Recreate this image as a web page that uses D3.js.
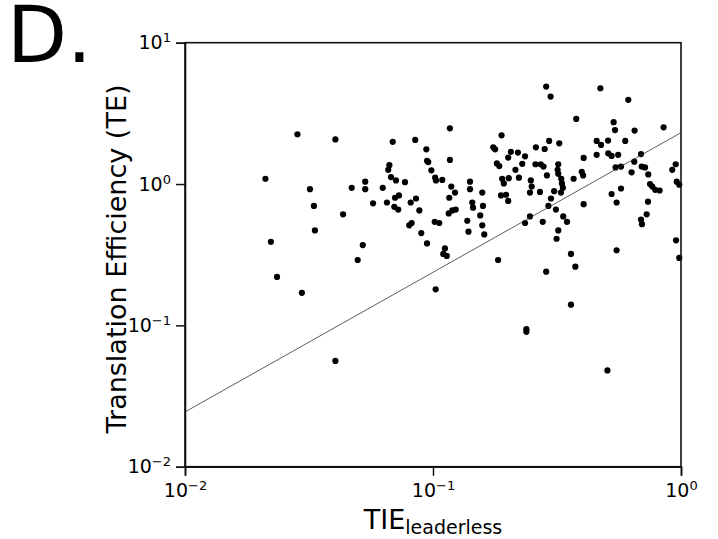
<!DOCTYPE html>
<html>
<head>
<meta charset="utf-8">
<script src="https://cdn.jsdelivr.net/npm/d3@7"></script>
<style>
  body { margin: 0; background: #fff; }
  svg { font-family: "DejaVu Sans", sans-serif; }
</style>
</head>
<body>
<div id="chart"></div>
<script>
// TIE (leaderless) on x, translation efficiency on y, one entry per gene
const tie = [
  0.0284, 0.0404, 0.0688, 0.0848, 0.094, 0.0946, 0.0957, 0.0985, 0.102, 0.1028,
  0.0211, 0.0319, 0.0331, 0.0434, 0.0334, 0.0222, 0.0521, 0.047, 0.0533, 0.0533,
  0.0627, 0.0573, 0.0652, 0.0667, 0.066, 0.0677, 0.0709, 0.0771, 0.0703, 0.0729,
  0.0698, 0.0724, 0.0813, 0.0854, 0.0881, 0.0802, 0.082, 0.0897, 0.0946, 0.1016,
  0.106, 0.109, 0.117, 0.117, 0.1185, 0.1227, 0.1163, 0.1157, 0.1196, 0.1235,
  0.1117, 0.110, 0.1136, 0.141, 0.141, 0.144, 0.145, 0.158, 0.159, 0.155,
  0.1375, 0.158, 0.139, 0.161, 0.189, 0.175, 0.178, 0.206, 0.220, 0.201,
  0.235, 0.181, 0.185, 0.229, 0.215, 0.190, 0.202, 0.193, 0.222, 0.188,
  0.197, 0.201, 0.248, 0.250, 0.246, 0.270, 0.260, 0.282, 0.294, 0.323,
  0.286, 0.298, 0.259, 0.272, 0.279, 0.288, 0.320, 0.318, 0.320, 0.329,
  0.331, 0.334, 0.308, 0.328, 0.299, 0.292, 0.313, 0.246, 0.235, 0.277,
  0.335, 0.347, 0.320, 0.315, 0.378, 0.405, 0.369, 0.398, 0.403, 0.405,
  0.473, 0.613, 0.535, 0.542, 0.650, 0.851, 0.457, 0.476, 0.508, 0.596,
  0.457, 0.509, 0.525, 0.558, 0.545, 0.573, 0.648, 0.690, 0.632, 0.694,
  0.716, 0.738, 0.750, 0.766, 0.787, 0.820, 0.525, 0.573, 0.550, 0.736,
  0.727, 0.690, 0.696, 0.952, 0.922, 0.961, 0.984, 0.955, 0.183, 0.286,
  0.360, 0.375, 0.360, 0.238, 0.238, 0.505, 0.550, 0.984, 0.1025, 0.0235,
  0.0296, 0.0497, 0.0404
];
const te = [
  2.25, 2.07, 1.99, 2.05, 1.76, 1.46, 1.43, 1.25, 1.11, 1.06,
  1.09, 0.92, 0.70, 0.61, 0.47, 0.39, 0.37, 0.94, 1.04, 0.92,
  0.94, 0.73, 0.74, 1.36, 1.26, 1.12, 1.06, 1.03, 0.80, 0.83,
  0.69, 0.66, 0.74, 0.79, 0.65, 0.51, 0.53, 0.45, 0.38, 0.54,
  0.53, 1.07, 2.48, 1.48, 0.96, 0.87, 0.80, 0.62, 0.65, 0.66,
  0.35, 0.32, 0.31, 1.04, 0.92, 0.74, 0.68, 0.87, 0.70, 0.60,
  0.55, 0.51, 0.46, 0.44, 2.21, 1.82, 1.76, 1.69, 1.67, 1.54,
  1.57, 1.40, 1.34, 1.39, 1.26, 1.09, 1.10, 1.01, 1.11, 0.83,
  0.84, 0.76, 1.06, 0.96, 0.87, 0.88, 1.82, 1.77, 2.02, 1.94,
  4.89, 4.16, 1.38, 1.38, 1.33, 1.15, 1.38, 1.26, 1.18, 1.09,
  1.01, 0.94, 0.89, 0.87, 0.79, 0.70, 0.66, 0.59, 0.53, 0.54,
  0.59, 0.54, 0.47, 0.41, 2.89, 1.53, 1.09, 1.22, 1.15, 0.72,
  4.76, 3.94, 2.74, 2.41, 2.39, 2.52, 2.02, 1.89, 2.03, 2.02,
  1.61, 1.65, 1.58, 1.61, 1.31, 1.33, 1.44, 1.63, 1.21, 1.33,
  1.31, 1.17, 1.00, 0.96, 0.91, 0.90, 0.85, 0.93, 0.74, 0.75,
  0.61, 0.56, 0.52, 1.38, 1.26, 1.04, 0.99, 0.40, 0.29, 0.24,
  0.32, 0.26, 0.14, 0.094, 0.090, 0.048, 0.34, 0.30, 0.18, 0.22,
  0.17, 0.29, 0.056
];

// fitted line, drawn between its two end points
const fitX = [0.01, 1];
const fitY = [0.0244, 2.31];

const xTicks = [0.01, 0.1, 1];
const yTicks = [0.01, 0.1, 1, 10];
const xExp = ["−2", "−1", "0"];
const yExp = ["−2", "−1", "0", "1"];

const width = 718;
const height = 539;
const margin = {top: 42.7, right: 37, bottom: 72.3, left: 185};

const svg = d3.select('#chart')
  .append('svg')
  .attr('width', width)
  .attr('height', height);

const x = d3.scaleLog()
  .domain([0.01, 1])
  .range([margin.left, width - margin.right]);

const y = d3.scaleLog()
  .domain([0.01, 10])
  .range([height - margin.bottom, margin.top]);

// points
svg.append('g')
  .selectAll('circle')
  .data(tie.map((d, i) => ({x: d, y: te[i]})))
  .join('circle')
    .attr('cx', d => x(d.x))
    .attr('cy', d => y(d.y))
    .attr('r', 3.1)
    .attr('fill', '#000');

// fit line
svg.append('path')
  .datum(fitX.map((d, i) => [d, fitY[i]]))
  .attr('fill', 'none')
  .attr('stroke', '#333')
  .attr('stroke-width', 0.8)
  .attr('d', d3.line().x(d => x(d[0])).y(d => y(d[1])));

// frame (top and right)
svg.append('rect')
  .attr('x', margin.left)
  .attr('y', margin.top)
  .attr('width', width - margin.right - margin.left)
  .attr('height', height - margin.bottom - margin.top)
  .attr('fill', 'none')
  .attr('stroke', '#111')
  .attr('stroke-width', 1.6);

function powLabel(sel, exps) {
  sel.selectAll('.tick text').each(function(d, i) {
    const t = d3.select(this).text('');
    t.append('tspan').text('10');
    t.append('tspan').attr('font-size', 13).attr('dy', -7).text(exps[i]);
  });
}

const gx = svg.append('g')
  .attr('transform', `translate(0, ${height - margin.bottom})`)
  .call(d3.axisBottom(x).tickValues(xTicks).tickSize(9).tickFormat(() => ''));
gx.selectAll('.tick text').attr('y', 17);
powLabel(gx, xExp);

const gy = svg.append('g')
  .attr('transform', `translate(${margin.left}, 0)`)
  .call(d3.axisLeft(y).tickValues(yTicks).tickSize(9).tickFormat(() => ''));
gy.selectAll('.tick text').attr('x', -14);
powLabel(gy, yExp);

[gx, gy].forEach(g => {
  g.select('.domain').attr('stroke', '#111').attr('stroke-width', 1.6);
  g.selectAll('.tick line').attr('stroke', '#111').attr('stroke-width', 1.5);
  g.selectAll('.tick text').attr('font-size', 19).attr('fill', '#000')
    .attr('font-family', '"DejaVu Sans", sans-serif');
});

// axis titles
const xl = svg.append('text')
  .attr('x', (margin.left + width - margin.right) / 2)
  .attr('y', 529)
  .attr('text-anchor', 'middle')
  .attr('font-size', 27);
xl.append('tspan').text('TIE');
xl.append('tspan').attr('font-size', 19).attr('dy', 5).text('leaderless');

svg.append('text')
  .attr('transform', 'translate(126, 259) rotate(-90)')
  .attr('text-anchor', 'middle')
  .attr('font-size', 27)
  .text('Translation Efficiency (TE)');

// panel letter
svg.append('text')
  .attr('x', 7)
  .attr('y', 62)
  .attr('font-size', 78)
  .text('D.');
</script>
</body>
</html>
